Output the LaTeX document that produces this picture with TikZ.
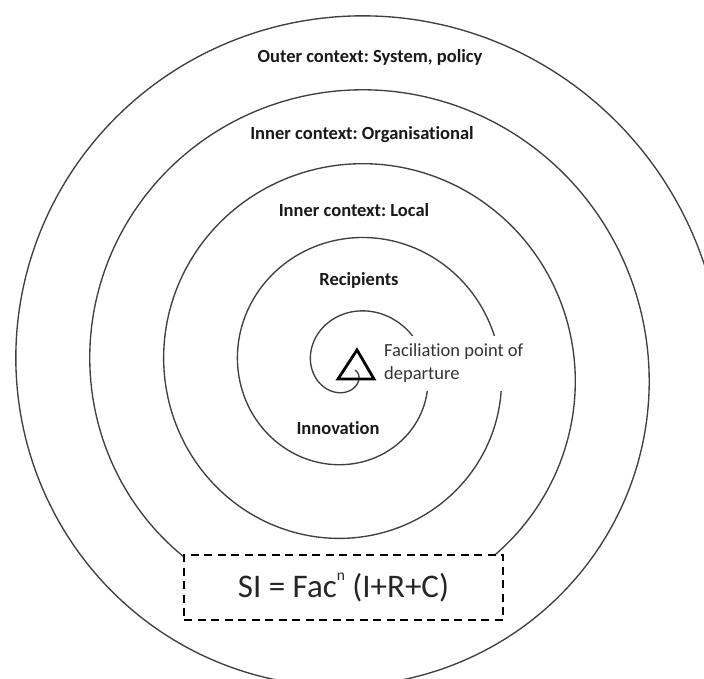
\documentclass[tikz,border=0pt]{standalone}
\usepackage{fontspec}
\setmainfont{Carlito}[Ligatures=NoCommon]
\frenchspacing
\begin{document}
\begin{tikzpicture}[x=1pt,y=-1pt,
  spiral/.style={draw=black!75, line width=1.35pt},
  ctx/.style={font=\bfseries\fontsize{18.5}{22}\selectfont, text=black!90, inner sep=0pt},
  note/.style={font=\fontsize{18.5}{22.5}\selectfont, text=black!80, align=left, fill=white, inner xsep=2pt, minimum height=55pt},
  formula/.style={draw=black, dash pattern=on 8pt off 5.5pt, line width=1.8pt, fill=white,
     minimum width=319pt, minimum height=65pt, font=\fontsize{33}{36}\selectfont, text=black!85},
  tri/.style={draw=black, line width=2.8pt, line join=miter},
  declare function={rr(\t)=20.5+0.2055556*(\t-80);}]
\clip (0,0) rectangle (704,678);
\fill[white] (0,0) rectangle (704,678);
% spiral (Archimedean, clockwise on screen)
\draw[spiral, smooth] plot[domain=0:1800, samples=600]
  ({351+rr(\x)*cos(350-\x)}, {369.5-rr(\x)*sin(350-\x)});
% triangle: facilitation point
\draw[tri] (357,350) -- (338,379) -- (374,379) -- cycle;
% labels
\node[ctx] (outer) at (370,57) {Outer context: System, policy};
\node[ctx] (org) at (362,135) {Inner context: Organisational};
\node[ctx] (local) at (354,210) {Inner context: Local};
\node[ctx] (rec) at (359,280) {Recipients};
\node[ctx] (inn) at (338,428) {Innovation};
\node[note, anchor=west] (fac) at (382,363) {Faciliation point of\\departure};
\node[formula] (si) at (343.5,587.5) {SI = Fac\raisebox{17pt}{\fontsize{15.5}{15.5}\selectfont n}\ (I+R+C)};
\end{tikzpicture}
\end{document}
